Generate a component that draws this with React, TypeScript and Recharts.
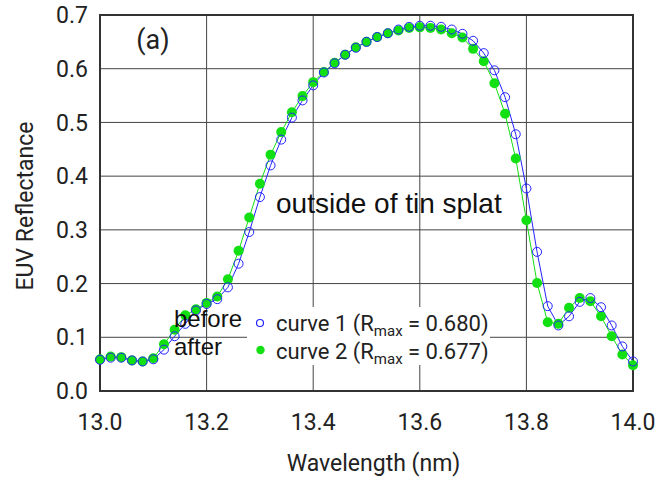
import { CartesianGrid, Legend, Line, LineChart, ReferenceArea, XAxis, YAxis } from 'recharts';

const wavelengths = [
  13.0, 13.02, 13.04, 13.06, 13.08, 13.1, 13.12, 13.14, 13.16, 13.18,
  13.2, 13.22, 13.24, 13.26, 13.28, 13.3, 13.32, 13.34, 13.36, 13.38,
  13.4, 13.42, 13.44, 13.46, 13.48, 13.5, 13.52, 13.54, 13.56, 13.58,
  13.6, 13.62, 13.64, 13.66, 13.68, 13.7, 13.72, 13.74, 13.76, 13.78,
  13.8, 13.82, 13.84, 13.86, 13.88, 13.9, 13.92, 13.94, 13.96, 13.98,
  14.0,
];

// before (open blue circles)
const curve1 = [
  0.058, 0.062, 0.062, 0.057, 0.055, 0.059, 0.077, 0.102, 0.125, 0.15,
  0.162, 0.171, 0.193, 0.237, 0.296, 0.361, 0.42, 0.468, 0.509, 0.541,
  0.569, 0.593, 0.61, 0.626, 0.639, 0.65, 0.659, 0.666, 0.673, 0.678,
  0.68, 0.68, 0.678, 0.673, 0.665, 0.652, 0.629, 0.597, 0.547, 0.478,
  0.377, 0.259, 0.158, 0.122, 0.139, 0.166, 0.173, 0.156, 0.122, 0.083,
  0.055,
];

// after (filled green dots)
const curve2 = [
  0.059, 0.064, 0.063, 0.057, 0.055, 0.061, 0.087, 0.114, 0.141, 0.152,
  0.164, 0.176, 0.208, 0.261, 0.323, 0.386, 0.44, 0.482, 0.519, 0.549,
  0.575, 0.594, 0.611, 0.626, 0.64, 0.65, 0.659, 0.666, 0.671, 0.676,
  0.677, 0.676, 0.673, 0.666, 0.658, 0.637, 0.614, 0.573, 0.516, 0.433,
  0.318, 0.201, 0.128, 0.125, 0.155, 0.173, 0.167, 0.139, 0.102, 0.068,
  0.048,
];

const xTicks = [13.0, 13.2, 13.4, 13.6, 13.8, 14.0];
const yTicks = [0, 0.1, 0.2, 0.3, 0.4, 0.5, 0.6, 0.7];
const curveNames = ['curve 1', 'curve 2'];
const curveTags = ['before', 'after'];
const rmax = ['0.680', '0.677'];

const data = wavelengths.map((x, i) => ({ x, curve1: curve1[i], curve2: curve2[i] }));

const BLUE = '#2323ff';
const GREEN = '#12e012';
const FONT = 'Roboto, sans-serif';
const ARIAL = '"Liberation Sans", Arial, sans-serif';

function LegendBox() {
  return (
    <svg width={330} height={70}>
      <rect x={79} y={7} width={243} height={58} fill="#fff" />
      {curveNames.map((name, i) => {
        const base = i === 0 ? 31 : 59;
        return (
          <g key={name}>
            <text x={6} y={base - 4} fontFamily={ARIAL} fontSize={24} fill="#111">
              {curveTags[i]}
            </text>
            {i === 0 ? (
              <circle cx={92} cy={base - 8} r={3.5} fill="none" stroke={BLUE} strokeWidth={1.2} />
            ) : (
              <circle cx={92.5} cy={base - 9} r={4.2} fill={GREEN} />
            )}
            <text x={108} y={base} fontFamily={FONT} fontSize={22} fill="#222">
              {name} (R
              <tspan fontSize={15} dy={5}>max</tspan>
              <tspan dy={-5}> = {rmax[i]})</tspan>
            </text>
          </g>
        );
      })}
    </svg>
  );
}

export default function App() {
  return (
    <div style={{ position: 'absolute', left: 0, top: 0, width: 660, height: 480, background: '#fff' }}>
      <LineChart width={660} height={480} data={data} margin={{ top: 15, right: 27, bottom: 0, left: 0 }}>
        <CartesianGrid stroke="#444" strokeWidth={1} />
        <XAxis
          dataKey="x"
          type="number"
          domain={[13, 14]}
          ticks={xTicks}
          tickFormatter={(v: number) => v.toFixed(1)}
          axisLine={false}
          tickLine={false}
          tickMargin={17}
          height={89}
          tick={{ fontFamily: FONT, fontSize: 23, fill: '#222' }}
          label={{
            value: 'Wavelength (nm)',
            position: 'insideBottom',
            offset: 9,
            dx: 7,
            fontFamily: FONT,
            fontSize: 23,
            fill: '#222',
          }}
        />
        <YAxis
          type="number"
          domain={[0, 0.7]}
          ticks={yTicks}
          tickFormatter={(v: number) => v.toFixed(1)}
          axisLine={false}
          tickLine={false}
          tickMargin={6}
          width={100}
          tick={{ fontFamily: FONT, fontSize: 23, fill: '#222' }}
          label={{
            value: 'EUV Reflectance',
            angle: -90,
            position: 'insideLeft',
            offset: 0,
            content: ({ viewBox }: any) => (
              <text
                x={33}
                y={viewBox.y + viewBox.height / 2 + 3}
                transform={`rotate(-90 33 ${viewBox.y + viewBox.height / 2 + 3})`}
                textAnchor="middle"
                fontFamily={FONT}
                fontSize={23}
                fill="#222"
              >
                EUV Reflectance
              </text>
            ),
          }}
        />
        <ReferenceArea x1={13} x2={14} y1={0} y2={0.7} fill="none" stroke="#333" strokeWidth={2} />
        <Legend
          layout="vertical"
          align="center"
          verticalAlign="middle"
          content={() => <LegendBox />}
          wrapperStyle={{ left: 168, top: 300, width: 330, height: 70 }}
        />
        <Line
          type="linear"
          dataKey="curve2"
          name="curve 2"
          stroke={GREEN}
          strokeWidth={1}
          dot={{ r: 5, fill: GREEN, stroke: GREEN, strokeWidth: 0 }}
          activeDot={false}
          isAnimationActive={false}
        />
        <Line
          type="linear"
          dataKey="curve1"
          name="curve 1"
          stroke={BLUE}
          strokeWidth={1}
          dot={{ r: 4.5, fill: 'none', stroke: BLUE, strokeWidth: 1 }}
          activeDot={false}
          isAnimationActive={false}
        />
      </LineChart>
      <svg width={660} height={480} style={{ position: 'absolute', left: 0, top: 0, pointerEvents: 'none' }}>
        <text x={153} y={49} textAnchor="middle" fontFamily={FONT} fontSize={27} fill="#222">
          (a)
        </text>
        <text x={276} y={213} fontFamily={ARIAL} fontSize={28} fill="#111">
          outside of tin splat
        </text>
      </svg>
    </div>
  );
}
